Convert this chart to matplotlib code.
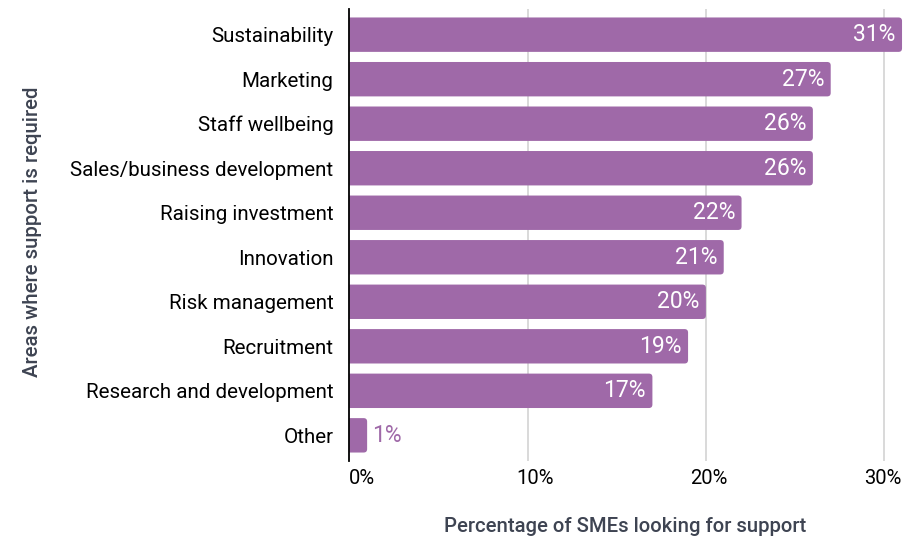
import matplotlib
import matplotlib.pyplot as plt
from matplotlib.patches import PathPatch
from matplotlib.path import Path
from matplotlib.transforms import ScaledTranslation, offset_copy

matplotlib.use('Agg')

# Survey results
areas = [
    'Sustainability',
    'Marketing',
    'Staff wellbeing',
    'Sales/business development',
    'Raising investment',
    'Innovation',
    'Risk management',
    'Recruitment',
    'Research and development',
    'Other',
]
shares = [31, 27, 26, 26, 22, 21, 20, 19, 17, 1]
x_ticks = [0, 10, 20, 30]
x_tick_labels = ['0%', '10%', '20%', '30%']

BAR_COLOR = '#9f69a8'
TITLE_COLOR = '#3e4452'
GRID_COLOR = '#d3d3d3'

plt.rcParams['font.family'] = ['Roboto', 'DejaVu Sans']

W, H, DPI = 922, 539, 100
fig = plt.figure(figsize=(W / DPI, H / DPI), dpi=DPI)

# Axes box in pixels
left_px, right_px, top_px, bottom_px = 349.3, 910.0, 9.3, 460.7
ax = fig.add_axes([left_px / W, 1 - bottom_px / H,
                   (right_px - left_px) / W, (bottom_px - top_px) / H])

x_max = (right_px - left_px) / 17.83
ax.set_xlim(0, x_max)
ax.set_ylim(len(areas) - 1 + 0.57, -0.57)

# Pixel size of one data unit, for round corners
px_x = (right_px - left_px) / x_max
px_y = (bottom_px - top_px) / (len(areas) - 1 + 1.14)


def bar_path(v, y0, h, rx, ry):
    """Bar with square left end and rounded right corners."""
    y1 = y0 + h
    verts = [
        (0, y0), (v - rx, y0),
        (v, y0), (v, y0 + ry),
        (v, y1 - ry),
        (v, y1), (v - rx, y1),
        (0, y1), (0, y0),
    ]
    codes = [
        Path.MOVETO, Path.LINETO,
        Path.CURVE3, Path.CURVE3,
        Path.LINETO,
        Path.CURVE3, Path.CURVE3,
        Path.LINETO, Path.CLOSEPOLY,
    ]
    return Path(verts, codes)


bar_h = 0.773
radius_px = 3.5
rx, ry = radius_px / px_x, radius_px / px_y
for i, v in enumerate(shares):
    ax.add_patch(PathPatch(bar_path(v, i - bar_h / 2, bar_h, rx, ry),
                           facecolor=BAR_COLOR, edgecolor='none', zorder=3))

    if v >= 5:
        tr = offset_copy(ax.transData, fig=fig, x=-6.5, y=0, units='dots')
        ax.text(v, i, f'{v}%', transform=tr, ha='right', va='center',
                color='white', fontsize=16.5, zorder=4)
    else:
        tr = offset_copy(ax.transData, fig=fig, x=5, y=0, units='dots')
        ax.text(v, i, f'{v}%', transform=tr, ha='left', va='center',
                color=BAR_COLOR, fontsize=16.5, zorder=4)

# Vertical gridlines
for t in x_ticks[1:]:
    ax.axvline(t, color=GRID_COLOR, lw=1.2, zorder=1)

ax.set_yticks(range(len(areas)))
ax.set_yticklabels(areas, fontsize=14.8)
ax.set_xticks(x_ticks)
ax.set_xticklabels(x_tick_labels, fontsize=14.5)
ax.tick_params(axis='y', length=0, pad=11.5)
ax.tick_params(axis='x', length=0, pad=6)

# Nudge tick labels sideways
shifts = [12.5, 7.5, 3, -1.5]
for lab, dx in zip(ax.get_xticklabels(), shifts):
    lab.set_transform(lab.get_transform() +
                      ScaledTranslation(dx / DPI, 0, fig.dpi_scale_trans))

for side in ['top', 'right', 'bottom']:
    ax.spines[side].set_visible(False)
ax.spines['left'].set_color('black')
ax.spines['left'].set_linewidth(1.3)
ax.spines['left'].set_zorder(5)

fig.text(625.5 / W, 1 - 527 / H, 'Percentage of SMEs looking for support',
         ha='center', va='center', fontsize=14.6, color=TITLE_COLOR,
         fontweight='medium')
fig.text(33 / W, 1 - 231.5 / H, 'Areas where support is required',
         ha='center', va='center', rotation=90, fontsize=14.7,
         color=TITLE_COLOR, fontweight='medium')

fig.savefig('out.png', dpi=DPI)
